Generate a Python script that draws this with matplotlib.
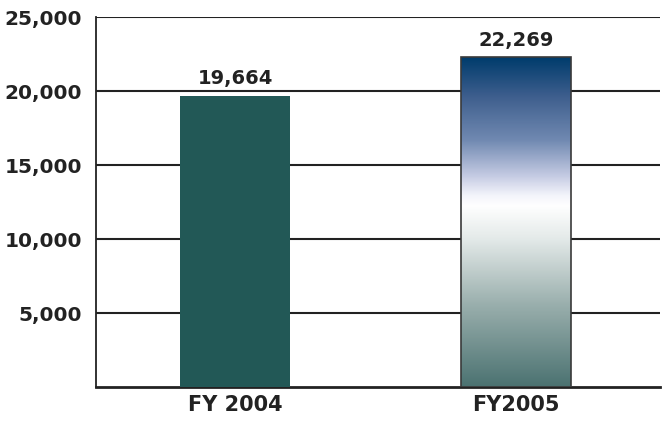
import numpy as np
import matplotlib.pyplot as plt
from matplotlib.colors import LinearSegmentedColormap

years = ['FY 2004', 'FY2005']
values = [19664, 22269]
yticks = [5000, 10000, 15000, 20000, 25000]

plt.rcParams['font.family'] = ['DejaVu Sans']
plt.rcParams['font.weight'] = 'bold'

fig = plt.figure(figsize=(6.69, 4.26), dpi=100)
ax = fig.add_axes([96 / 669, 39 / 426, 564 / 669, 370 / 426])

x = np.arange(len(years))
width = 0.39
bars = ax.bar(x, values, width=width, zorder=3)
bars[0].set_facecolor('#225856')
bars[0].set_edgecolor('none')

# gradient fill for the second bar
grad = LinearSegmentedColormap.from_list('fy05', [
    (0.0, '#4b7271'),
    (0.25, '#9aafad'),
    (0.45, '#e4eae9'),
    (0.55, '#ffffff'),
    (0.58, '#f4f5fb'),
    (0.64, '#c5cbe3'),
    (0.75, '#7089b1'),
    (0.88, '#3f5f8e'),
    (1.0, '#003c6c'),
])
b = bars[1]
b.set_facecolor('none')
b.set_edgecolor('#3a3a3a')
b.set_linewidth(1.2)
img = ax.imshow(np.linspace(0, 1, 256).reshape(-1, 1), cmap=grad, origin='lower',
                aspect='auto', extent=[b.get_x(), b.get_x() + b.get_width(), 0, b.get_height()],
                zorder=2.9)
img.set_clip_path(b)

for xi, v in zip(x, values):
    ax.text(xi, v + 800, f'{v:,}', ha='center', va='baseline', fontsize=14, fontweight='bold',
            color='#222222')

ax.set_xlim(-0.495, 1.512)
ax.set_ylim(0, 25000)
ax.set_xticks(x)
ax.set_xticklabels(years, fontsize=15, fontweight='bold', color='#222222')
ax.set_yticks(yticks)
ax.set_yticklabels([f'{t:,}' for t in yticks], fontsize=14.5, fontweight='bold', color='#222222')
ax.tick_params(length=0, pad=10)
ax.tick_params(axis='x', pad=6)
ax.yaxis.grid(True, color='#222222', linewidth=1.5, zorder=1)
ax.set_axisbelow(True)
for s in ['top', 'right']:
    ax.spines[s].set_visible(False)
ax.spines['left'].set_linewidth(1.3)
ax.spines['bottom'].set_linewidth(2)
ax.spines['left'].set_color('#222222')
ax.spines['bottom'].set_color('#222222')

fig.savefig('out.png', dpi=100)
